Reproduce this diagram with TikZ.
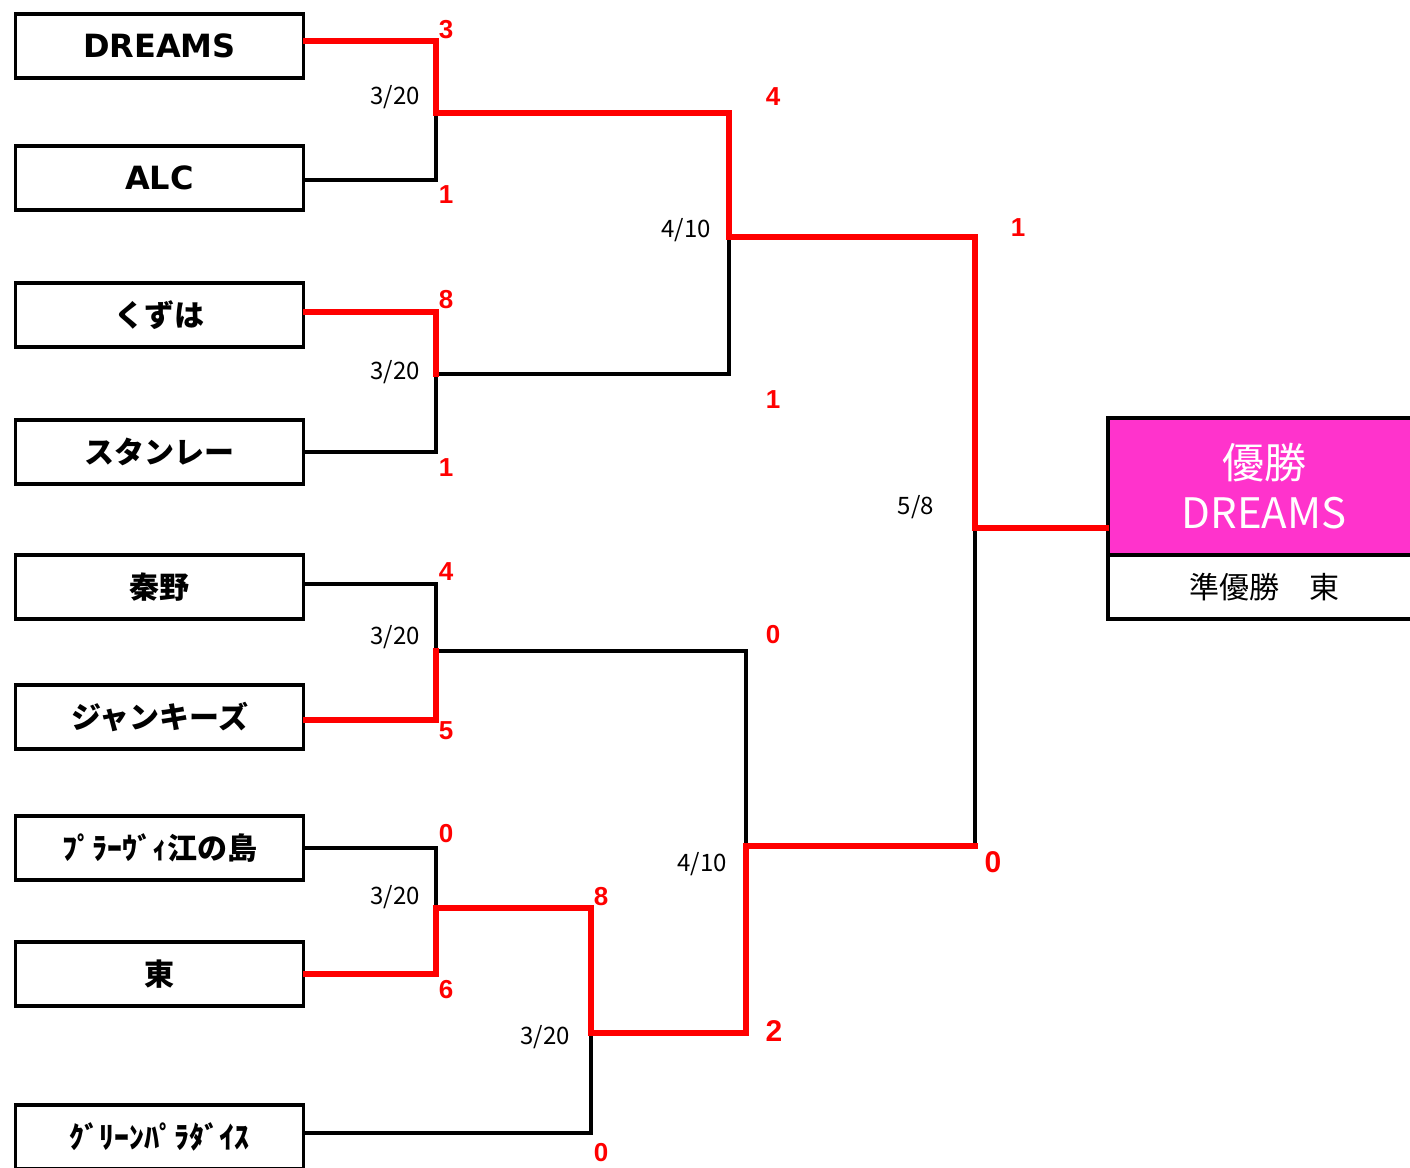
\documentclass[tikz,border=0pt]{standalone}
\usepackage{fontspec}
\setmainfont{Noto Sans CJK JP}
\newfontfamily\latinfont{DejaVu Sans}
\newfontfamily\scorefont{Liberation Sans}
\usepackage{tikz}
\usetikzlibrary{positioning}

\definecolor{champpink}{RGB}{255,51,204}

\begin{document}
\begin{tikzpicture}[x=0.5pt,y=-0.5pt,
    team/.style={shape=rectangle,draw,line width=1.8pt,minimum width=144pt,minimum height=32pt,inner sep=0pt,font=\fontsize{15}{17}\selectfont\bfseries},
    lose/.style={draw=black,line width=1.6pt,line cap=rect},
    win/.style={draw=red,line width=2.8pt,line cap=rect},
    score/.style={text=red,font=\scorefont\fontsize{13}{15}\selectfont\bfseries,inner sep=0pt},
    date/.style={text=black,font=\fontsize{12}{14}\selectfont,inner sep=0pt}]
	\useasboundingbox (0,0) rectangle (1410,1168);
	\fill[white] (0,0) rectangle (1410,1168);

	% teams
	\node (dreams) [team] at (159.5,46) {\latinfont\fontsize{16}{18}\selectfont\bfseries DREAMS};
	\node (alc) [team] at (159.5,178) {\latinfont\fontsize{16}{18}\selectfont\bfseries ALC};
	\node (kuzuha) [team] at (159.5,315) {くずは};
	\node (stanley) [team] at (159.5,452) {スタンレー};
	\node (hadano) [team] at (159.5,587) {秦野};
	\node (junkies) [team] at (159.5,717) {ジャンキーズ};
	\node (pravi) [team] at (159.5,848) {ﾌﾟﾗｰｳﾞｨ江の島};
	\node (azuma) [team] at (159.5,974) {東};
	\node (green) [team] at (159.5,1137) {ｸﾞﾘｰﾝﾊﾟﾗﾀﾞｲｽ};

	% result
	\node (champ) [shape=rectangle,draw,line width=1.8pt,fill=champpink,text=white,minimum width=156pt,minimum height=68.5pt,align=center,font=\fontsize{21}{25}\selectfont] at (1264,486.5) {優勝\\DREAMS};
	\node (runnerup) [shape=rectangle,draw,line width=1.8pt,minimum width=156pt,minimum height=32pt,font=\fontsize{15}{17}\selectfont] at (1264,587) {準優勝　東};

	% junctions
	\coordinate (m1) at (436,113);
	\coordinate (m2) at (436,374);
	\coordinate (m3) at (436,651);
	\coordinate (m4) at (436,908);
	\coordinate (m5) at (591,1033);
	\coordinate (m6) at (729,237);
	\coordinate (m7) at (746,846);
	\coordinate (m8) at (975,528);

	% losers
	\path[lose] ([yshift=-1pt]alc.east) -| (m1);
	\path[lose] (stanley.east) -| (m2);
	\path[lose] ([yshift=1.5pt]hadano.east) -| (m3);
	\path[lose] (pravi.east) -| (m4);
	\path[lose] ([yshift=2pt]green.east) -| (m5);
	\path[lose] (m2) -| (m6);
	\path[lose] (m3) -| (m7);
	\path[lose] (m7 -| m8) -- (m8);

	% winners
	\path[win] ([yshift=2.5pt]dreams.east) -| (m1) -| (m6) -| (m8) -- (champ.west |- m8);
	\path[win] ([yshift=1.5pt]kuzuha.east) -| (m2);
	\path[win] ([yshift=-1.5pt]junkies.east) -| (m3);
	\path[win] (azuma.east) -| (m4) -| (m5) -| (m7) -- (m7 -| m8);

	% scores
	\node (s1) [score] at (446,30) {3};
	\node (s2) [score] at (446,195) {1};
	\node (s3) [score] at (446,300) {8};
	\node (s4) [score] at (446,468) {1};
	\node (s5) [score] at (446,572) {4};
	\node (s6) [score] at (446,731) {5};
	\node (s7) [score] at (446,834) {0};
	\node (s8) [score] at (446,990) {6};
	\node (s9) [score] at (601,897) {8};
	\node (s10) [score] at (601,1153) {0};
	\node (s11) [score] at (773,97) {4};
	\node (s12) [score] at (773,400) {1};
	\node (s13) [score] at (773,635) {0};
	\node (s14) [score,font=\scorefont\fontsize{15}{17}\selectfont\bfseries] at (774,1031) {2};
	\node (s15) [score] at (1018,228) {1};
	\node (s16) [score,font=\scorefont\fontsize{15}{17}\selectfont\bfseries] at (993,862) {0};

	% dates
	\node (d1) [date] at (395,97) {3/20};
	\node (d2) [date] at (395,372) {3/20};
	\node (d3) [date] at (395,637) {3/20};
	\node (d4) [date] at (395,897) {3/20};
	\node (d5) [date] at (545,1037) {3/20};
	\node (d6) [date] at (686,230) {4/10};
	\node (d7) [date] at (702,864) {4/10};
	\node (d8) [date] at (916,507) {5/8};
\end{tikzpicture}
\end{document}
